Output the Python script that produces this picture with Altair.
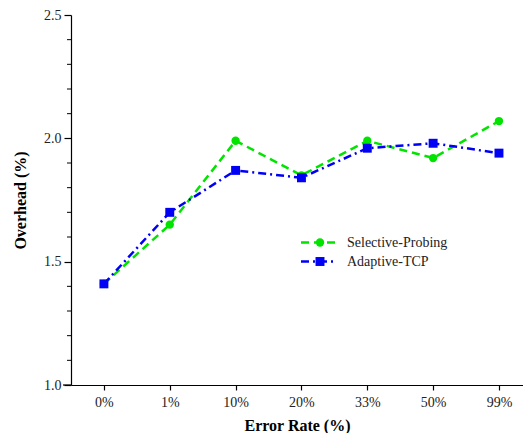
import altair as alt
import pandas as pd

# Error-rate categories along the x axis
error_rates = ["0%", "1%", "10%", "20%", "33%", "50%", "99%"]

# Overhead (%) for each approach
selective_probing = [1.41, 1.65, 1.99, 1.85, 1.99, 1.92, 2.07]
adaptive_tcp = [1.41, 1.70, 1.87, 1.84, 1.96, 1.98, 1.94]

series_names = ["Selective-Probing", "Adaptive-TCP"]
series_colors = ["#00E400", "#0000F5"]
series_shapes = ["circle", "square"]
series_dashes = [[8, 5], [8, 4, 2, 4]]

# y-axis tick positions
major_ticks = [1.0, 1.5, 2.0, 2.5]
minor_ticks = [1.1, 1.2, 1.3, 1.4, 1.6, 1.7, 1.8, 1.9, 2.1, 2.2, 2.3, 2.4]

FONT = "Liberation Serif"
W, H = 452, 370

rows = []
for name, vals in zip(series_names, [selective_probing, adaptive_tcp]):
    for i, (cat, v) in enumerate(zip(error_rates, vals)):
        rows.append({"series": name, "idx": i, "rate": cat, "overhead": v})
df = pd.DataFrame(rows)

label_expr = "[" + ",".join(f"'{c}'" for c in error_rates) + "][datum.value]"

x_enc = alt.X(
    "idx:Q",
    scale=alt.Scale(domain=[-0.5, 6.365], nice=False, zero=False),
    axis=alt.Axis(
        values=list(range(len(error_rates))),
        labelExpr=label_expr,
        title="Error Rate (%)",
        grid=False,
        tickSize=5,
        labelPadding=5,
        titlePadding=8,
    ),
)
y_scale = alt.Scale(domain=[1.0, 2.5], nice=False, zero=False)
y_enc = alt.Y(
    "overhead:Q",
    scale=y_scale,
    axis=alt.Axis(
        values=major_ticks,
        format=".1f",
        title="Overhead (%)",
        grid=False,
        tickSize=7,
        labelPadding=3,
        titlePadding=15,
    ),
)

layers = []
for name, color, shape, dash in zip(series_names, series_colors, series_shapes, series_dashes):
    sub = df[df["series"] == name]
    base = alt.Chart(sub).encode(x=x_enc, y=y_enc)
    layers.append(base.mark_line(color=color, strokeWidth=2.5, strokeDash=dash))
    layers.append(
        base.mark_point(shape=shape, filled=True, opacity=1, color=color,
                        size=80 if shape == "square" else 70)
    )

# minor ticks on the y axis
minor = alt.Chart(pd.DataFrame({"v": minor_ticks})).mark_rule(
    color="#000", strokeWidth=1, clip=False
).encode(x=alt.value(-4), x2=alt.value(0), y=alt.Y("v:Q", scale=y_scale))
layers.append(minor)

# short extension of the x axis line left of the y axis
layers.append(
    alt.Chart(pd.DataFrame({"a": [0]})).mark_rule(color="#000", strokeWidth=1.2, clip=False)
    .encode(x=alt.value(-8), x2=alt.value(0), y=alt.value(H))
)

# legend drawn inside the plot
for k, (name, color, shape, dash) in enumerate(zip(series_names, series_colors, series_shapes, series_dashes)):
    ly = 227.5 + 19 * k
    one = alt.Chart(pd.DataFrame({"name": [name]}))
    layers.append(one.mark_rule(color=color, strokeWidth=2.5, strokeDash=dash)
                  .encode(x=alt.value(230), x2=alt.value(264), y=alt.value(ly)))
    layers.append(one.mark_point(shape=shape, filled=True, opacity=1, color=color,
                                 size=80 if shape == "square" else 70)
                  .encode(x=alt.value(249), y=alt.value(ly)))
    layers.append(one.mark_text(align="left", baseline="middle", font=FONT, fontSize=14,
                                color="#222")
                  .encode(text="name:N", x=alt.value(276), y=alt.value(ly)))

chart = (
    alt.layer(*layers)
    .properties(
        width=W, height=H,
        background="white",
        autosize=alt.AutoSizeParams(type="none"),
        padding={"left": 71, "top": 15, "right": 0, "bottom": 48},
    )
    .configure_view(stroke=None)
    .configure_axis(
        domainColor="#000", tickColor="#000", labelColor="#222", titleColor="#000",
        labelFont=FONT, titleFont=FONT, labelFontSize=14, titleFontSize=16,
        titleFontWeight="bold", domainWidth=1.2, tickWidth=1.2,
    )
)

chart.save("out.html", embed_options={"renderer": "svg", "actions": False})
